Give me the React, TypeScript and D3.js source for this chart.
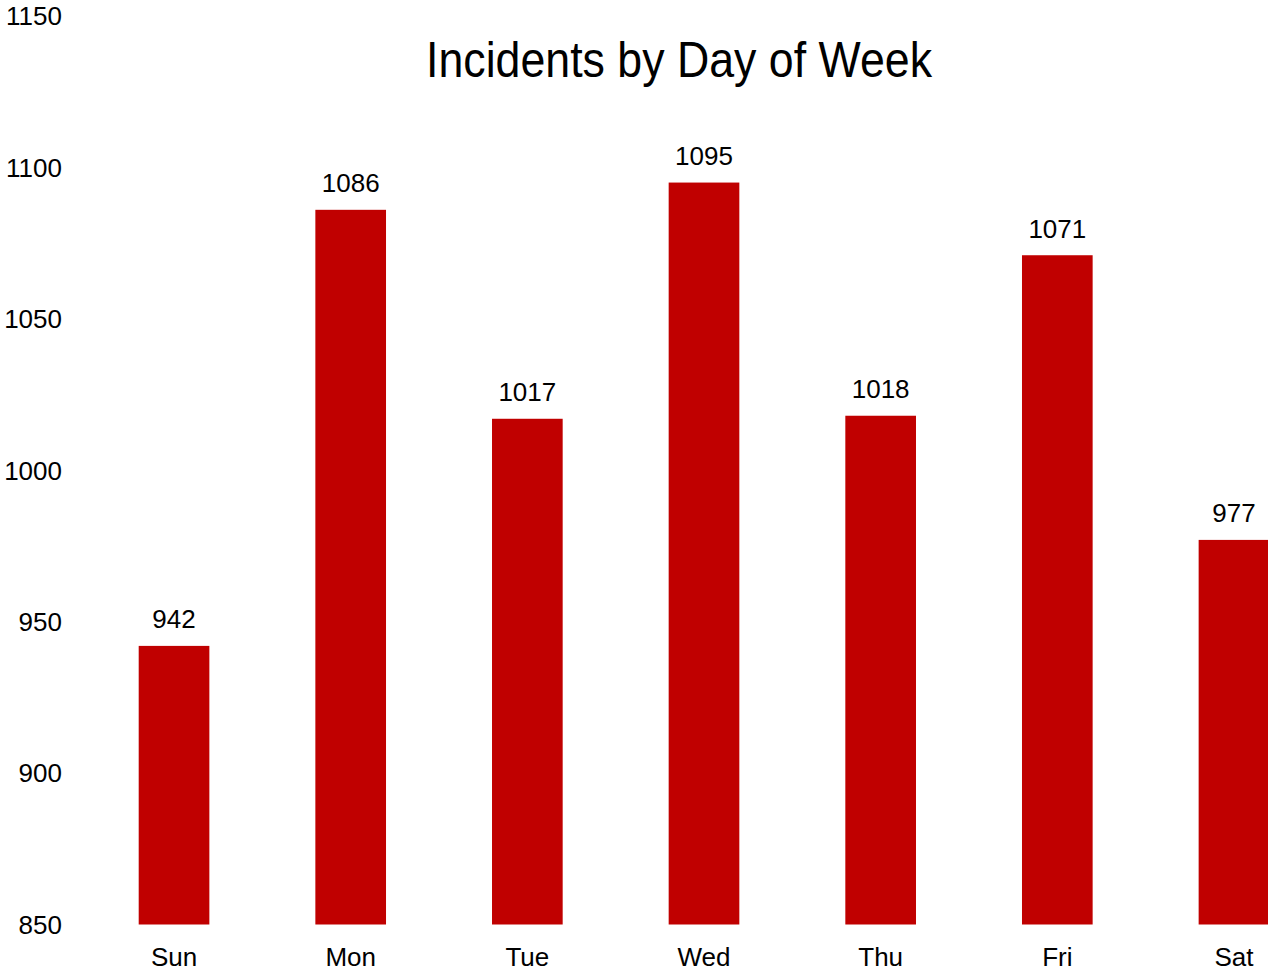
import React from "react";
import * as d3 from "d3";

const days = ["Sun", "Mon", "Tue", "Wed", "Thu", "Fri", "Sat"];
const incidents = [942, 1086, 1017, 1095, 1018, 1071, 977];
const yTicks = [850, 900, 950, 1000, 1050, 1100, 1150];

const W = 1268;
const H = 968;
const FONT = "Arial, 'Liberation Sans', sans-serif";

export default function App() {
  // bars run off the right edge a little, like the original
  const x = d3.scaleBand<string>().domain(days).range([85.7, 1322.3]).paddingInner(0.6).paddingOuter(0.3);
  const y = d3.scaleLinear().domain([850, 1150]).range([924.5, 16]);

  return (
    <svg
      width={W}
      height={H}
      style={{ position: "absolute", left: 0, top: 0, display: "block", background: "#fff" }}
      fontFamily={FONT}
    >
      <text x={679} y={77} textAnchor="middle" fontSize={50} textLength={506} lengthAdjust="spacingAndGlyphs" fill="#000">
        Incidents by Day of Week
      </text>

      {yTicks.map((t) => (
        <text key={t} x={62} y={y(t)} dy="0.36em" textAnchor="end" fontSize={26} fill="#000">
          {t}
        </text>
      ))}

      {days.map((d, i) => {
        const v = incidents[i];
        const bx = x(d) as number;
        const cx = bx + x.bandwidth() / 2;
        return (
          <g key={d}>
            <rect x={bx} y={y(v)} width={x.bandwidth()} height={y(850) - y(v)} fill="#C00000" />
            <text x={cx} y={y(v) - 17.5} textAnchor="middle" fontSize={26} fill="#000">
              {v}
            </text>
            <text x={cx} y={966} textAnchor="middle" fontSize={26} fill="#000">
              {d}
            </text>
          </g>
        );
      })}
    </svg>
  );
}
